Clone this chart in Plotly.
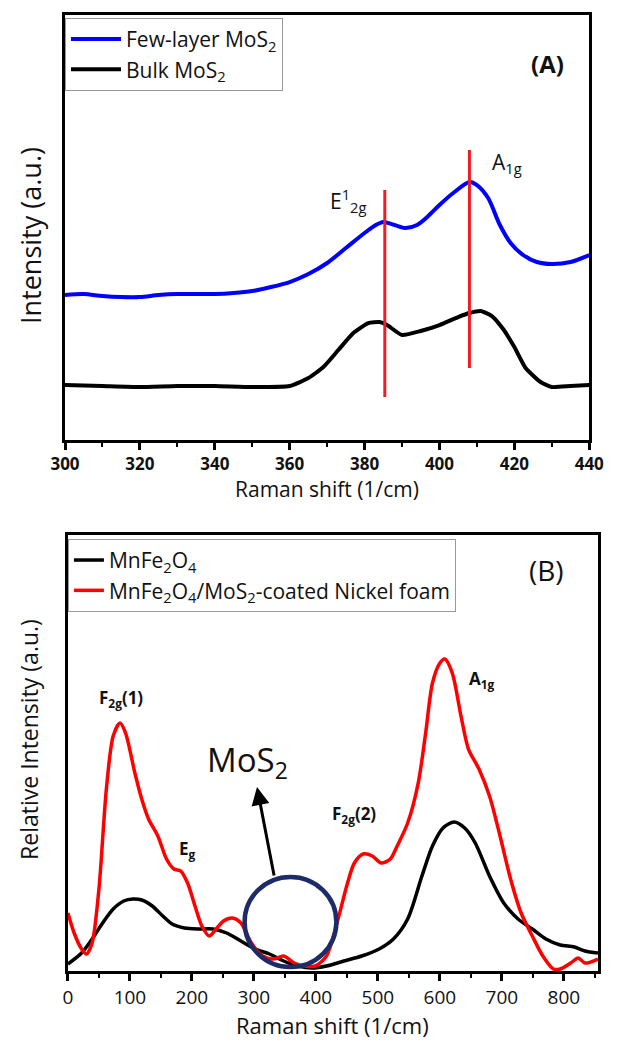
import plotly.graph_objects as go

# ---------------- Panel A data ----------------
a_x_few = [300, 305, 310, 315, 320, 325, 330, 335, 340, 345, 350, 355, 360, 365, 370, 375,
           380, 383, 385, 388, 391, 394, 397, 400, 404, 408, 410, 413, 416, 419, 422, 426,
           430, 435, 440]
a_y_few = [145, 146, 144, 143, 143, 145, 146, 146, 146, 147, 149, 153, 158, 166, 177, 192,
           207, 215, 218, 215, 212, 215, 224, 235, 248, 258, 255, 242, 216, 197, 186, 178,
           176, 178, 185]
a_x_bulk = [300, 310, 320, 330, 340, 350, 360, 365, 369, 373, 377, 381, 384, 386, 390, 395,
            400, 405, 408, 411, 414, 417, 420, 423, 427, 430, 435, 440]
a_y_bulk = [55, 54, 53, 54, 54, 53, 54, 62, 73, 90, 107, 117, 118, 115, 105, 109,
            115, 123, 127, 129, 124, 111, 93, 72, 58, 53, 54, 55]
a_peak_pos = [385.4, 408.0]
a_peak_low = [43, 72]
a_peak_high = [250, 290]
a_peak_labels = ["E<sup>1</sup><sub>2g</sub>", "A<sub>1g</sub>"]
a_label_x = [375.5, 418]
a_label_y = [240, 277]
a_ticks = [300, 320, 340, 360, 380, 400, 420, 440]

# ---------------- Panel B data ----------------
b_x_red = [0, 10, 22, 30, 39, 50, 62, 73, 84, 93, 108, 119, 130, 145, 159, 171, 182, 193,
           205, 216, 228, 239, 251, 265, 279, 296, 314, 331, 348, 365, 382, 399, 417, 434,
           451, 462, 476, 491, 505, 520, 531, 548, 565, 577, 588, 600, 608, 620, 634, 646,
           663, 680, 697, 714, 731, 749, 766, 783, 794, 811, 823, 834, 855]
b_y_red = [58, 38, 22, 17, 28, 82, 182, 235, 248, 238, 198, 172, 152, 135, 112, 102, 100, 88,
           65, 45, 35, 42, 50, 53, 48, 28, 15, 12, 15, 8, 5, 5, 15, 48,
           88, 108, 117, 115, 108, 112, 125, 148, 188, 238, 288, 308, 312, 298, 255, 222,
           202, 175, 135, 92, 58, 35, 15, 2, 2, 8, 13, 8, 12]
b_x_black = [0, 22, 39, 56, 73, 90, 105, 119, 136, 153, 168, 188, 211, 234, 256, 279, 302,
             325, 348, 371, 394, 417, 445, 474, 502, 525, 548, 571, 588, 605, 623, 640, 657,
             680, 703, 726, 749, 771, 794, 817, 834, 855]
b_y_black = [7, 18, 32, 48, 62, 70, 72, 71, 65, 55, 47, 43, 42, 42, 38, 30, 22,
             17, 10, 5, 3, 5, 10, 15, 22, 32, 52, 95, 125, 143, 149, 143, 128,
             95, 68, 52, 42, 32, 26, 24, 20, 18]
b_peak_labels = ["F<sub>2g</sub>(1)", "E<sub>g</sub>", "F<sub>2g</sub>(2)", "A<sub>1g</sub>"]
b_label_x = [86, 193, 462, 668]
b_label_y = [273, 122, 157, 292]
b_circle_center = [359, 49]
b_circle_radius = [74, 45]
b_arrow_tail = [333, 94]
b_arrow_tip = [305, 184]
b_mos2_pos = [290, 210]
b_ticks = [0, 100, 200, 300, 400, 500, 600, 700, 800]

FONT = "Open Sans"

fig = go.Figure()

# Panel A traces
fig.add_trace(go.Scatter(x=a_x_few, y=a_y_few, mode="lines", name="Few-layer MoS<sub>2</sub>",
                         line=dict(color="#0000ff", width=4, shape="spline", smoothing=0.8),
                         xaxis="x", yaxis="y", legend="legend"))
fig.add_trace(go.Scatter(x=a_x_bulk, y=a_y_bulk, mode="lines", name="Bulk MoS<sub>2</sub>",
                         line=dict(color="black", width=4, shape="spline", smoothing=0.5),
                         xaxis="x", yaxis="y", legend="legend"))
for px, lo, hi in zip(a_peak_pos, a_peak_low, a_peak_high):
    fig.add_trace(go.Scatter(x=[px, px], y=[lo, hi], mode="lines", showlegend=False,
                             line=dict(color="#ee1c24", width=3), xaxis="x", yaxis="y",
                             hoverinfo="skip"))

# Panel B traces
fig.add_trace(go.Scatter(x=b_x_black, y=b_y_black, mode="lines", name="MnFe<sub>2</sub>O<sub>4</sub>",
                         line=dict(color="black", width=3.5, shape="spline", smoothing=0.8),
                         xaxis="x2", yaxis="y2", legend="legend2"))
fig.add_trace(go.Scatter(x=b_x_red, y=b_y_red, mode="lines",
                         name="MnFe<sub>2</sub>O<sub>4</sub>/MoS<sub>2</sub>-coated Nickel foam",
                         line=dict(color="#ff0000", width=3.5, shape="spline", smoothing=0.8),
                         xaxis="x2", yaxis="y2", legend="legend2"))

# Circle
fig.add_shape(type="circle", xref="x2", yref="y2",
              x0=b_circle_center[0] - b_circle_radius[0], x1=b_circle_center[0] + b_circle_radius[0],
              y0=b_circle_center[1] - b_circle_radius[1], y1=b_circle_center[1] + b_circle_radius[1],
              line=dict(color="#1c2c68", width=4.5))

annotations = []
for txt, x, y in zip(a_peak_labels, a_label_x, a_label_y):
    annotations.append(dict(x=x, y=y, xref="x", yref="y", text=txt, showarrow=False,
                            font=dict(family=FONT, size=21, color="#111")))
for txt, x, y in zip(b_peak_labels, b_label_x, b_label_y):
    annotations.append(dict(x=x, y=y, xref="x2", yref="y2", text=txt, showarrow=False,
                            font=dict(family=FONT, size=17, color="#111", weight="bold")))
annotations.append(dict(x=b_mos2_pos[0], y=b_mos2_pos[1], xref="x2", yref="y2",
                        text="MoS<sub>2</sub>", showarrow=False,
                        font=dict(family=FONT, size=33, color="#111")))
annotations.append(dict(x=b_arrow_tip[0], y=b_arrow_tip[1], xref="x2", yref="y2",
                        ax=b_arrow_tail[0], ay=b_arrow_tail[1], axref="x2", ayref="y2",
                        text="", showarrow=True, arrowhead=2, arrowsize=1.2, arrowwidth=3,
                        arrowcolor="black"))
# Panel labels
annotations.append(dict(x=0.94, y=0.9686, xref="paper", yref="paper", text="(A)",
                        showarrow=False, font=dict(family=FONT, size=24, color="#111",
                                                   weight="bold")))
annotations.append(dict(x=0.94, y=0.419, xref="paper", yref="paper", text="(B)",
                        showarrow=False, font=dict(family=FONT, size=28, color="#111")))
# Axis titles
annotations.append(dict(x=0.5, y=0.5554, xref="x domain", yref="paper", yanchor="middle",
                        text="Raman shift (1/cm)", showarrow=False, yshift=-49,
                        font=dict(family=FONT, size=21, color="#111")))
annotations.append(dict(x=0.5, y=0, xref="x2 domain", yref="paper", yanchor="middle",
                        text="Raman shift (1/cm)", showarrow=False, yshift=-54,
                        font=dict(family=FONT, size=22, color="#111")))
annotations.append(dict(x=0, y=0.48, xref="paper", yref="y domain", xshift=-35,
                        xanchor="center", yanchor="middle",
                        text="Intensity (a.u.)", showarrow=False, textangle=-90,
                        font=dict(family=FONT, size=27, color="#111")))
annotations.append(dict(x=0, y=0.53, xref="paper", yref="y2 domain", xshift=-36,
                        xanchor="center", yanchor="middle",
                        text="Relative Intensity (a.u.)", showarrow=False, textangle=-90,
                        font=dict(family=FONT, size=23, color="#111")))

axis_common = dict(showline=True, linecolor="black", linewidth=3, mirror=True,
                   showgrid=False, zeroline=False)

fig.update_layout(
    width=625, height=1042,
    margin=dict(l=65, r=12, t=15, b=71),
    paper_bgcolor="white", plot_bgcolor="white",
    font=dict(family=FONT, color="#111"),
    xaxis=dict(domain=[0, 0.9836], range=[300, 440], anchor="y",
               tickmode="array", tickvals=a_ticks, ticks="outside", ticklen=7, tickwidth=2.5,
               tickcolor="black", minor=dict(dtick=10, tick0=300, ticks="outside", ticklen=4,
                                             tickwidth=2, tickcolor="black"),
               tickfont=dict(family=FONT, size=17, color="#111", weight="bold"),
               **axis_common),
    yaxis=dict(domain=[0.5554, 1], range=[0, 425], anchor="x",
               showticklabels=False, ticks="", **axis_common),
    xaxis2=dict(domain=[0.0055, 1], range=[0, 855], anchor="y2",
                tickmode="array", tickvals=b_ticks, ticks="outside", ticklen=7, tickwidth=2.5,
                tickcolor="black", minor=dict(dtick=50, tick0=0, ticks="outside", ticklen=4,
                                              tickwidth=2, tickcolor="black"),
                tickfont=dict(family=FONT, size=19, color="#111"),
                **axis_common),
    yaxis2=dict(domain=[0, 0.456], range=[0, 436], anchor="x2",
                showticklabels=False, ticks="", **axis_common),
    legend=dict(x=0.0, y=0.997, xanchor="left", yanchor="top", xref="paper", yref="paper",
                bgcolor="white", bordercolor="#999", borderwidth=1, itemwidth=50,
                font=dict(family=FONT, size=21, color="#111"), tracegroupgap=0),
    legend2=dict(x=0.0055, y=0.452, xanchor="left", yanchor="top", xref="paper", yref="paper",
                 bgcolor="white", bordercolor="#999", borderwidth=1,
                 font=dict(family=FONT, size=21, color="#111"), tracegroupgap=0),
    annotations=annotations,
    showlegend=True,
)

fig.write_html("out.html")
